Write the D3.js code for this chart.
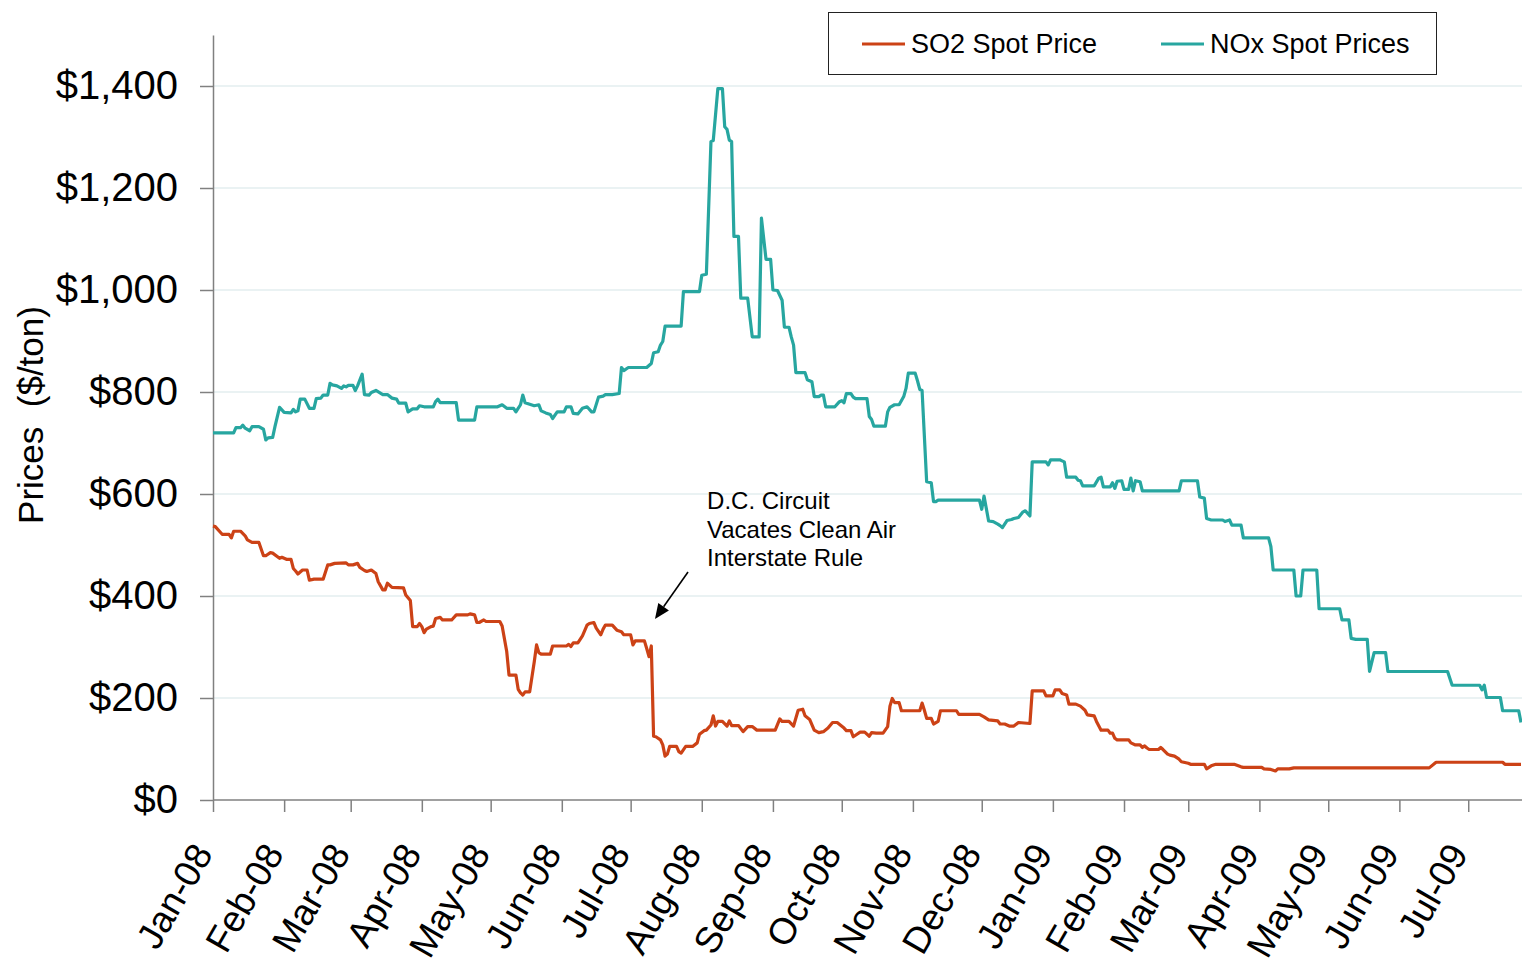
<!DOCTYPE html>
<html><head><meta charset="utf-8">
<script src="https://cdn.jsdelivr.net/npm/d3@7"></script>
<style>
body{margin:0;background:#fff;}
svg{display:block;font-family:Arial,"Liberation Sans",sans-serif;}
</style>
</head><body>
<svg id="chart" width="1522" height="964"></svg>
<script>
// ---------------- DATA ----------------
// Day numbers are days since 1 Jan 2008; prices in $/ton
const seriesNames = ["SO2 Spot Price", "NOx Spot Prices"];
const seriesColors = ["#cc4216", "#27a6a0"];
const yTicks = [0, 200, 400, 600, 800, 1000, 1200, 1400];
const xTickLabels = ["Jan-08","Feb-08","Mar-08","Apr-08","May-08","Jun-08","Jul-08","Aug-08","Sep-08","Oct-08","Nov-08","Dec-08","Jan-09","Feb-09","Mar-09","Apr-09","May-09","Jun-09","Jul-09"];
const lastDay = 570;
const yLabel = "Prices  ($/ton)";
const annotationLines = ["D.C. Circuit", "Vacates Clean Air", "Interstate Rule"];
const annotationAt = [215.3, 570];     // [day, price] of text anchor
const arrowFrom = [207, 447];          // [day, price]
const arrowTo = [192.6, 355];          // [day, price]

const so2 = [[0,537],[1,536],[3,526],[4,521],[7,521],[8,514],[9,527],[12,527],[14,518],[15,510],[17,505],[20,505],[22,479],[23,479],[25,485],[26,484],[29,474],[30,476],[32,472],[34,472],[35,454],[36,449],[37,443],[39,451],[41,451],[42,431],[44,433],[48,433],[50,461],[51,461],[53,464],[58,465],[59,461],[61,461],[63,464],[64,456],[66,450],[67,448],[69,451],[71,444],[72,428],[74,412],[75,412],[76,425],[78,417],[83,416],[84,402],[86,391],[87,340],[89,340],[90,346],[91,340],[92,328],[93,335],[95,340],[96,341],[97,356],[99,358],[100,353],[104,353],[106,363],[111,363],[112,365],[114,363],[115,348],[116,348],[118,353],[119,350],[125,350],[126,341],[128,291],[129,245],[132,245],[133,217],[134,210],[135,206],[136,212],[138,212],[140,271],[141,304],[142,289],[143,286],[147,286],[148,302],[154,302],[155,305],[156,301],[157,308],[159,308],[161,322],[163,343],[164,346],[166,348],[167,337],[169,324],[170,335],[171,343],[174,343],[176,333],[178,330],[179,324],[182,324],[183,304],[184,312],[188,312],[189,297],[190,281],[191,302],[192,125],[193,124],[195,118],[196,108],[197,86],[198,90],[199,105],[202,105],[203,95],[204,92],[206,105],[209,105],[211,112],[212,129],[214,136],[215,137],[217,147],[218,165],[219,145],[220,154],[222,154],[224,145],[225,155],[226,146],[229,146],[231,134],[233,144],[235,144],[237,137],[245,137],[247,159],[248,154],[251,154],[253,145],[255,176],[257,178],[258,165],[260,158],[262,137],[264,132],[266,134],[268,141],[270,152],[272,152],[275,141],[276,136],[278,136],[279,124],[280,127],[282,133],[284,133],[286,125],[287,132],[289,131],[292,131],[294,144],[295,184],[296,199],[297,191],[299,191],[300,175],[308,175],[309,190],[310,176],[311,160],[313,160],[314,149],[316,154],[317,175],[324,175],[325,168],[334,168],[336,163],[338,157],[342,155],[343,149],[345,149],[347,145],[349,145],[351,152],[356,150],[357,214],[362,214],[363,204],[366,204],[367,216],[369,216],[370,209],[372,206],[373,188],[376,188],[378,184],[380,176],[381,167],[384,165],[385,154],[387,137],[390,137],[391,131],[392,131],[393,121],[394,118],[399,118],[400,112],[402,108],[404,108],[405,103],[406,106],[407,102],[408,99],[412,99],[413,103],[414,99],[416,90],[417,88],[419,86],[421,80],[422,75],[425,72],[426,70],[432,70],[433,61],[435,67],[437,70],[445,70],[448,65],[449,64],[457,64],[458,61],[461,60],[463,57],[464,61],[469,61],[471,63],[530,63],[533,74],[562,74],[563,70],[570,70]];

const nox = [[0,720],[9,720],[10,730],[12,730],[13,735],[14,729],[16,724],[17,732],[20,732],[22,727],[23,706],[24,710],[26,711],[27,732],[29,770],[31,760],[34,759],[35,766],[36,761],[37,763],[38,786],[40,786],[42,768],[44,768],[45,787],[47,788],[48,794],[50,794],[51,817],[52,814],[54,812],[56,807],[57,812],[58,810],[59,813],[61,813],[62,803],[63,812],[65,835],[66,795],[68,794],[69,799],[71,803],[74,795],[76,795],[78,788],[80,786],[81,778],[84,778],[85,761],[87,767],[89,767],[90,773],[92,771],[96,771],[97,781],[98,786],[99,779],[106,779],[107,745],[114,745],[115,771],[124,771],[126,775],[128,768],[131,768],[132,761],[134,775],[135,794],[136,779],[138,776],[140,773],[142,775],[143,763],[145,759],[147,756],[148,748],[150,761],[153,761],[154,771],[156,771],[157,758],[159,757],[161,768],[163,771],[165,761],[166,761],[168,790],[170,792],[171,795],[174,795],[177,797],[178,848],[179,842],[181,848],[189,848],[191,856],[192,877],[194,879],[195,892],[196,899],[197,929],[204,929],[205,997],[212,997],[213,1029],[215,1031],[217,1291],[218,1293],[220,1395],[222,1395],[223,1320],[224,1315],[225,1294],[226,1291],[227,1105],[229,1105],[230,984],[233,984],[235,908],[238,908],[239,1141],[241,1060],[243,1060],[244,1000],[246,999],[248,980],[249,927],[251,927],[252,908],[253,892],[254,838],[258,838],[259,824],[261,820],[262,791],[264,791],[265,794],[266,794],[267,771],[271,771],[273,781],[274,783],[275,779],[276,797],[278,797],[279,790],[280,787],[285,787],[286,752],[287,746],[288,733],[293,733],[294,761],[295,770],[297,775],[299,775],[301,791],[302,807],[303,837],[306,837],[307,822],[308,805],[309,803],[311,624],[313,622],[314,585],[315,585],[316,588],[334,588],[335,570],[336,596],[338,547],[340,546],[342,541],[343,538],[344,534],[346,548],[348,550],[349,552],[351,554],[353,565],[354,567],[356,557],[357,663],[363,663],[364,657],[365,667],[369,667],[370,665],[371,663],[372,633],[376,633],[377,627],[378,626],[379,616],[384,616],[386,631],[387,633],[388,614],[391,614],[392,622],[393,611],[394,625],[396,626],[397,609],[399,609],[400,631],[401,606],[402,626],[404,624],[405,606],[421,606],[422,626],[429,626],[430,594],[432,592],[433,552],[435,549],[440,549],[441,546],[443,549],[444,539],[448,539],[449,514],[460,514],[461,497],[462,451],[471,451],[472,400],[474,400],[475,451],[481,451],[482,375],[491,375],[492,353],[495,353],[496,317],[498,315],[503,315],[504,252],[506,289],[511,289],[512,252],[538,252],[540,225],[552,225],[553,216],[554,225],[555,201],[561,201],[562,175],[569,175],[570,152]];

// ---------------- CHART ----------------
const svg = d3.select("#chart");
const t0 = Date.UTC(2008, 0, 1);
const dayToDate = d => new Date(t0 + d * 864e5);
const monthDates = xTickLabels.map((_, i) => new Date(Date.UTC(2008, i, 1)));

const x = d3.scaleUtc().domain([dayToDate(0), dayToDate(lastDay)]).range([213, 1521]);
const y = d3.scaleLinear().domain([0, 1500]).range([800, 35]);

// gridlines
svg.append("g").selectAll("line").data(yTicks.filter(v => v > 0)).join("line")
  .attr("x1", x.range()[0]).attr("x2", 1522)
  .attr("y1", d => y(d)).attr("y2", d => y(d))
  .attr("stroke", "#d6e6e8").attr("stroke-width", 1.2);

// y axis
const yAxis = svg.append("g").attr("transform", `translate(${x.range()[0]},0)`)
  .call(d3.axisLeft(y).tickValues(yTicks).tickSize(13).tickSizeOuter(0).tickPadding(22)
    .tickFormat(d => "$" + d3.format(",")(d)));
yAxis.select(".domain").attr("stroke", "#808080").attr("stroke-width", 1.5);
yAxis.selectAll(".tick line").attr("stroke", "#808080").attr("stroke-width", 1.5);
yAxis.selectAll("text").attr("font-size", 40).attr("fill", "#000")
  .attr("font-family", "Arial, 'Liberation Sans', sans-serif");

// x axis
const xAxis = svg.append("g").attr("transform", `translate(0,${y(0)})`)
  .call(d3.axisBottom(x).tickValues(monthDates).tickSize(12).tickSizeOuter(0)
    .tickFormat((d, i) => xTickLabels[i]));
xAxis.select(".domain").attr("stroke", "#808080").attr("stroke-width", 1.5)
  .attr("d", `M${x.range()[0]},0H1522`);
xAxis.selectAll(".tick line").attr("stroke", "#808080").attr("stroke-width", 1.5);
xAxis.selectAll("text").attr("font-size", 37).attr("fill", "#000")
  .attr("font-family", "Arial, 'Liberation Sans', sans-serif")
  .attr("text-anchor", "end").attr("x", 0).attr("y", 0).attr("dy", "0.35em")
  .attr("transform", "translate(-11,47) rotate(-60)");

// y axis title
svg.append("text").attr("transform", "translate(43,415) rotate(-90)")
  .attr("text-anchor", "middle").attr("font-size", 35).attr("fill", "#000")
  .style("white-space", "pre").text(yLabel);

// lines
const line = d3.line().x(d => x(dayToDate(d[0]))).y(d => y(d[1]));
[nox, so2].forEach((s, i) => {
  svg.append("path").datum(s).attr("d", line).attr("fill", "none")
    .attr("stroke", i === 0 ? seriesColors[1] : seriesColors[0])
    .attr("stroke-width", 3.2).attr("stroke-linejoin", "round");
});

// annotation
const ann = svg.append("text").attr("font-size", 24).attr("fill", "#000");
annotationLines.forEach((t, i) => {
  ann.append("tspan").attr("x", x(dayToDate(annotationAt[0])))
    .attr("y", y(annotationAt[1]) + i * 28.5).text(t);
});
const ax0 = x(dayToDate(arrowFrom[0])), ay0 = y(arrowFrom[1]);
const ax1 = x(dayToDate(arrowTo[0])), ay1 = y(arrowTo[1]);
const len = Math.hypot(ax1 - ax0, ay1 - ay0), ux = (ax1 - ax0) / len, uy = (ay1 - ay0) / len;
const hl = 15, hw = 6.5;
const bx = ax1 - ux * hl, by = ay1 - uy * hl;
svg.append("line").attr("x1", ax0).attr("y1", ay0).attr("x2", bx).attr("y2", by)
  .attr("stroke", "#000").attr("stroke-width", 1.6);
svg.append("path").attr("d", `M${ax1},${ay1}L${bx - uy * hw},${by + ux * hw}L${bx + uy * hw},${by - ux * hw}Z`)
  .attr("fill", "#000");

// legend
const lg = svg.append("g");
lg.append("rect").attr("x", 828.5).attr("y", 12.5).attr("width", 608).attr("height", 62)
  .attr("fill", "#fff").attr("stroke", "#222").attr("stroke-width", 1);
const legendX = [862, 1161];
seriesNames.forEach((n, i) => {
  lg.append("line").attr("x1", legendX[i]).attr("x2", legendX[i] + 43).attr("y1", 44).attr("y2", 44)
    .attr("stroke", seriesColors[i]).attr("stroke-width", 3);
  lg.append("text").attr("x", legendX[i] + 49).attr("y", 53).attr("font-size", 27).attr("fill", "#000").text(n);
});
</script>
</body></html>
